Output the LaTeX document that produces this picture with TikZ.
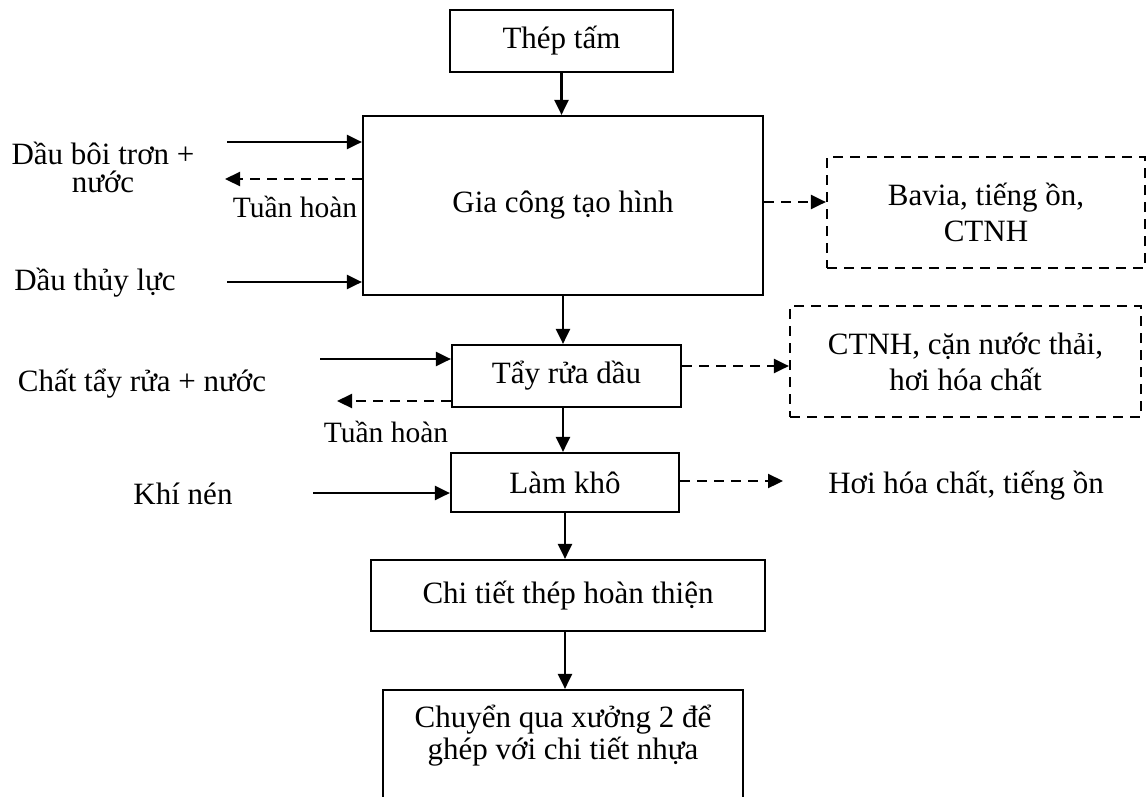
\documentclass[tikz,border=0pt]{standalone}
\usepackage{fontspec}
\setmainfont{Liberation Serif}
\usetikzlibrary{arrows.meta}
\tikzset{
  box/.style={draw, line width=2.2pt, inner sep=0pt, align=center, font=\mainfs},
  dbox/.style={box, dash pattern=on 10pt off 7pt},
  txt/.style={inner sep=0pt, align=center, font=\mainfs},
  small/.style={inner sep=0pt, font=\smallfs},
  arr/.style={line width=2.2pt, -{Triangle[length=15pt,width=14pt]}},
  darr/.style={arr, dash pattern=on 10pt off 7pt},
}
\newcommand{\mainfs}{\fontsize{31}{36}\selectfont}
\newcommand{\smallfs}{\fontsize{29.5}{34}\selectfont}
\begin{document}
\begin{tikzpicture}[x=1pt,y=-1pt]
\useasboundingbox (0,0) rectangle (1147,796);
\fill[white] (0,0) rectangle (1147,796);
\clip (0,0) rectangle (1147,796);

% boxes
\node[box, minimum width=223pt, minimum height=62pt] (thep) at (561.5,41) {Thép tấm};
\node[box, minimum width=400pt, minimum height=179pt] (gia) at (563,205.5) {Gia công tạo hình};
\node[dbox, minimum width=318pt, minimum height=111pt] (bavia) at (986,212.5) {Bavia, tiếng ồn,\\CTNH};
\node[box, minimum width=229pt, minimum height=62pt] (tay) at (566.5,376) {Tẩy rửa dầu};
\node[dbox, minimum width=351pt, minimum height=111pt] (ctnh) at (965.5,361.5) {CTNH, cặn nước thải,\\hơi hóa chất};
\node[box, minimum width=228pt, minimum height=59pt] (lam) at (565,482.5) {Làm khô};
\node[box, minimum width=394pt, minimum height=71pt] (chi) at (568,595.5) {Chi tiết thép hoàn thiện};
\node[box, minimum width=360pt, minimum height=140pt] (chuyen) at (563,760) {};
\node[txt] (chuyentxt) at (563,736) {Chuyển qua xưởng 2 để\\[-4pt]ghép với chi tiết nhựa};

% side texts
\node[txt] (dau) at (103,167) {Dầu bôi trơn +\\[-8pt]nước};
\node[small] (th1) at (295,207) {Tuần hoàn};
\node[txt] (thuy) at (95,283) {Dầu thủy lực};
\node[txt] (chat) at (142,384) {Chất tẩy rửa + nước};
\node[small] (th2) at (386,432) {Tuần hoàn};
\node[txt] (khi) at (183,494) {Khí nén};
\node[txt] (hoi) at (966,486) {Hơi hóa chất, tiếng ồn};

% coordinates for free ends
\coordinate (c1) at (227,142);
\coordinate (c2) at (225,179);
\coordinate (c3) at (227,282);
\coordinate (c4) at (320,359);
\coordinate (c5) at (337,401);
\coordinate (c6) at (313,493);
\coordinate (c7) at (783,481);

% main flow
\draw[arr] (thep.south) -- (thep.south |- gia.north);
\draw[arr] (gia.south) -- (gia.south |- tay.north);
\draw[arr] (tay.south -| gia.south) -- (gia.south |- lam.north);
\draw[arr] (lam.south) -- (lam.south |- chi.north);
\draw[arr] (chi.south -| lam.south) -- (lam.south |- chuyen.north);

% inputs
\draw[arr] (c1) -- (c1 -| gia.west);
\draw[darr] (c2 -| gia.west) -- (c2);
\draw[arr] (c3) -- (c3 -| gia.west);
\draw[arr] (c4) -- (c4 -| tay.west);
\draw[darr] (c5 -| tay.west) -- (c5);
\draw[arr] (c6) -- (c6 -| lam.west);

% outputs
\draw[darr] (gia.east |- 0,202) -- (bavia.west |- 0,202);
\draw[darr] (tay.east |- 0,366) -- (ctnh.west |- 0,366);
\draw[darr] (lam.east |- c7) -- (c7);
\end{tikzpicture}
\end{document}
